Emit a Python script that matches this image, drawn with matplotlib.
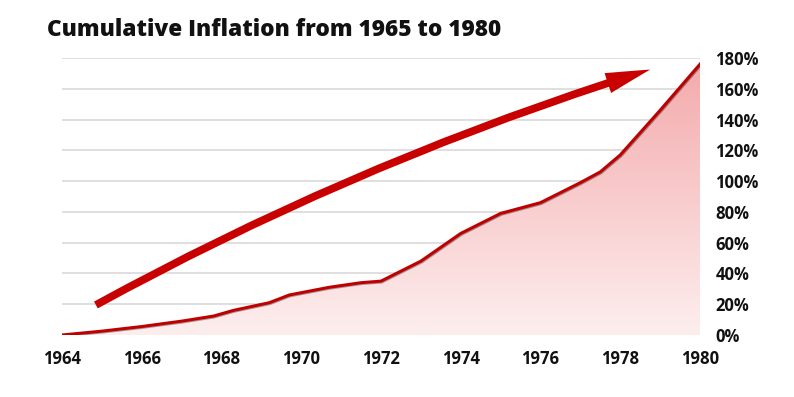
import matplotlib
matplotlib.use('Agg')
import matplotlib.pyplot as plt
import numpy as np
from matplotlib.colors import LinearSegmentedColormap
from matplotlib.patches import FancyArrowPatch
import matplotlib.patheffects as pe

# Data (cumulative inflation, %)
years = [1964, 1965, 1966, 1967, 1967.8, 1968.3, 1969.2, 1969.7, 1970.7, 1971.5,
         1972.0, 1973.0, 1974.0, 1975.0, 1976.0, 1977.0, 1977.5, 1978.0, 1979.0, 1980.0]
inflation = [0, 2.5, 5.5, 9, 12.3, 16, 21, 26, 31, 34,
             35, 48, 66, 79, 86, 99, 106, 117, 146, 176]
x_ticks = [1964, 1966, 1968, 1970, 1972, 1974, 1976, 1978, 1980]
y_ticks = [0, 20, 40, 60, 80, 100, 120, 140, 160, 180]
arrow_start = (1964.85, 19.5)
arrow_end = (1978.75, 172.5)

plt.rcParams['font.family'] = ['Open Sans', 'DejaVu Sans']

fig = plt.figure(figsize=(7.94, 3.97), dpi=100)
ax = fig.add_axes([62 / 794, 1 - 335 / 397, 638 / 794, 277 / 397])
ax.set_xlim(1964, 1980)
ax.set_ylim(0, 180)

# Gridlines
for y in y_ticks:
    ax.axhline(y, color='#dcdcdc', lw=1.3, zorder=0)

# Gradient area under the curve
fill = ax.fill_between(years, inflation, 0, color='none', lw=0)
cmap = LinearSegmentedColormap.from_list('pinks', ['#fdeeee', '#f4a9ab'])
grad = np.linspace(0, 1, 256).reshape(-1, 1)
img = ax.imshow(grad, cmap=cmap, extent=[1964, 1980, 0, 180], aspect='auto',
                origin='lower', zorder=1)
clip = fill.get_paths()[0]
img.set_clip_path(clip, transform=ax.transData)

# Main line
ax.plot(years, inflation, color='#c00000', lw=2.2, zorder=3,
        path_effects=[pe.SimpleLineShadow(offset=(0.6, -0.6), alpha=0.35), pe.Normal()])

# Big arrow
arrow = FancyArrowPatch(arrow_start, arrow_end,
                        connectionstyle='arc3,rad=-0.05',
                        arrowstyle='simple,head_length=1.6,head_width=0.75,tail_width=0.28',
                        mutation_scale=20, color='#c90000', lw=0, zorder=4,
                        shrinkA=0, shrinkB=0)
ax.add_patch(arrow)

# Axes styling
for s in ax.spines.values():
    s.set_visible(False)
ax.yaxis.tick_right()
ax.set_yticks(y_ticks)
ax.set_yticklabels([f'{v}%' for v in y_ticks])
ax.set_xticks(x_ticks)
ax.set_xticklabels([str(v) for v in x_ticks])
ax.tick_params(axis='both', length=0, labelsize=12, colors='#111111')
ax.tick_params(axis='y', pad=11)
ax.tick_params(axis='x', pad=11)
for lbl in ax.get_xticklabels() + ax.get_yticklabels():
    lbl.set_fontweight('bold')

fig.text(47 / 794, 1 - 30 / 397, 'Cumulative Inflation from 1965 to 1980',
         fontsize=16.3, fontweight='heavy', va='center', ha='left', color='#111111')

fig.savefig('out.png', dpi=100)
